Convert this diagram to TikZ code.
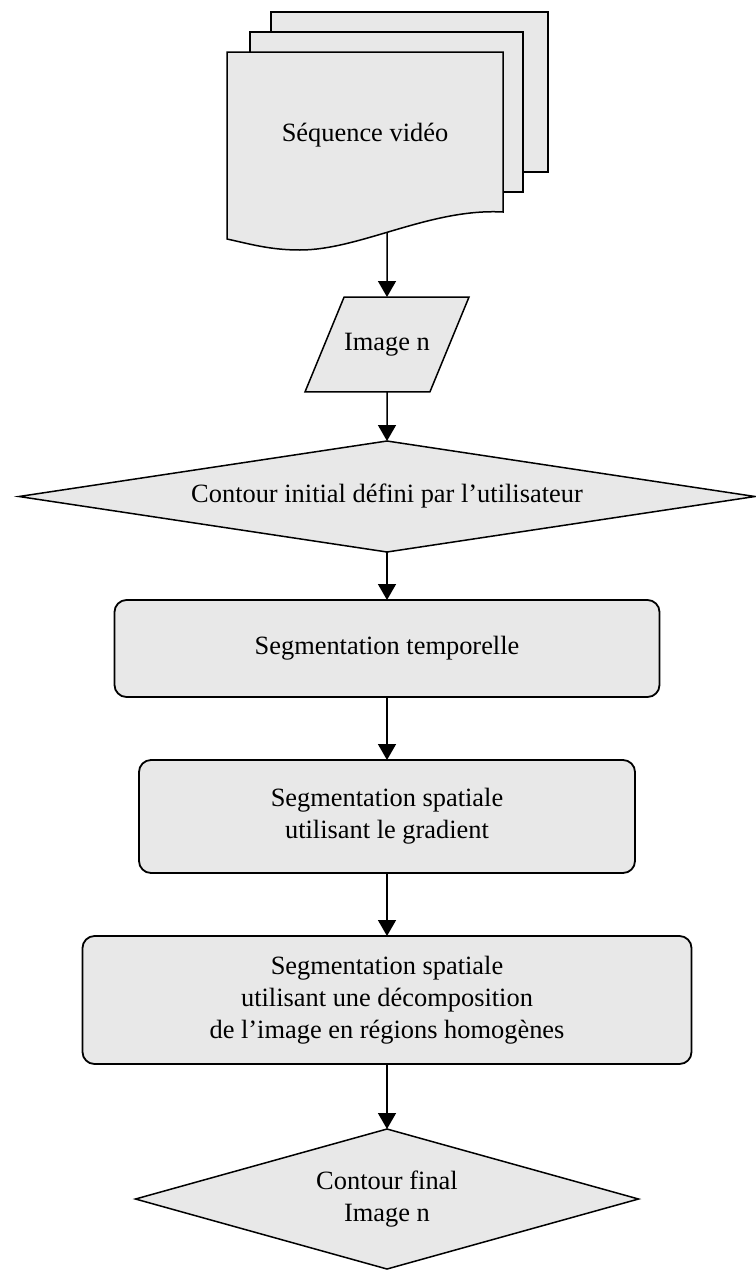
\documentclass[tikz,border=0pt]{standalone}
\usepackage{fontspec}
\setmainfont{Liberation Serif}
\usetikzlibrary{arrows.meta,positioning,shapes.geometric}
\definecolor{boxgray}{HTML}{E8E8E8}

\begin{document}
\begin{tikzpicture}[
  x=0.5pt, y=-0.5pt,
  every node/.style={font=\fontsize{13.2}{16}\selectfont, inner sep=0pt, outer sep=0pt},
  page/.style={draw=black, fill=boxgray, line width=0.75pt},
  iobox/.style={trapezium, trapezium left angle=67.6, trapezium right angle=112.4,
    draw=black, fill=boxgray, line width=0.75pt, inner xsep=0pt, inner ysep=18pt},
  decision/.style={diamond, draw=black, fill=boxgray, line width=0.75pt, align=center},
  flowbox/.style={rectangle, rounded corners=6pt, draw=black, fill=boxgray,
    line width=0.9pt, align=center},
  arrow/.style={-{Triangle[length=8pt,width=9pt]}, line width=0.75pt},
]
\useasboundingbox (0,0) rectangle (755,1274);

% Document stack
\filldraw[page] (271,12) rectangle (548,172);
\filldraw[page] (250,32) rectangle (523,192);
\filldraw[page] (227,52) -- (503,52) -- (503,212)
  .. controls (430,208) and (360,250) .. (300,250)
  .. controls (270,250) and (250,244) .. (227,239) -- cycle;
\node (seq) at (365,135) {Séquence vidéo};
\coordinate (seqbot) at (387,232);

% Steps
\node[iobox, below=32.5pt of seqbot] (img) {Image n};
\node[decision, aspect=6.63, minimum width=368pt, minimum height=55.5pt,
  below=24.5pt of img] (init) {Contour initial défini par l’utilisateur};
\node[flowbox, minimum width=272.5pt, minimum height=48.5pt, below=24pt of init] (temp)
  {Segmentation temporelle};
\node[flowbox, minimum width=248pt, minimum height=56.5pt, below=31.5pt of temp] (grad)
  {Segmentation spatiale\\utilisant le gradient};
\node[flowbox, minimum width=304.5pt, minimum height=64pt, below=31.5pt of grad] (reg)
  {Segmentation spatiale\\utilisant une décomposition\\de l’image en régions homogènes};
\node[decision, aspect=3.59, minimum width=251.5pt, minimum height=70pt,
  below=32.5pt of reg] (final) {Contour final\\Image n};

% Arrows
\draw[arrow] (seqbot) -- (img);
\draw[arrow] (img) -- (init);
\draw[arrow] (init) -- (temp);
\draw[arrow] (temp) -- (grad);
\draw[arrow] (grad) -- (reg);
\draw[arrow] (reg) -- (final);
\end{tikzpicture}
\end{document}
